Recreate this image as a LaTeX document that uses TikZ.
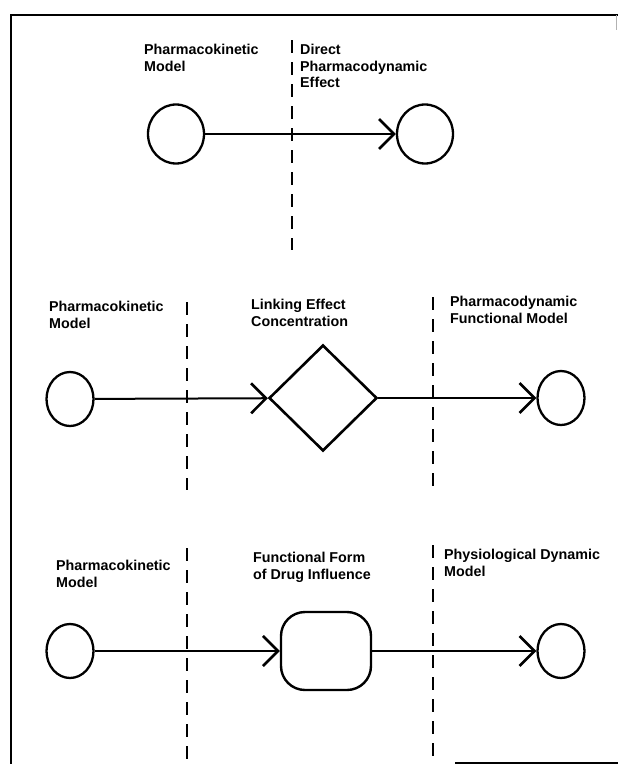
\documentclass[tikz,border=0pt]{standalone}
\usepackage{fontspec}
\setmainfont{Liberation Sans}
\usetikzlibrary{arrows.meta,shapes.geometric}
\begin{document}
\begin{tikzpicture}[x=1pt,y=-1pt,
  lbl/.style={anchor=north west, align=left, font=\bfseries\fontsize{14.3}{16.5}\selectfont, inner sep=0pt},
  circ/.style={ellipse, draw, line width=2.3pt, minimum width=47pt, minimum height=54pt, inner sep=0pt},
  bigcirc/.style={ellipse, draw, line width=2.3pt, minimum width=56pt, minimum height=59pt, inner sep=0pt},
  sep/.style={dash pattern=on 13pt off 9pt, line width=2pt},
  arr/.style={line width=2pt, -{Straight Barb[length=15pt,width=30pt,line width=2.6pt]}},
  frame/.style={line width=2.6pt}]
\useasboundingbox (0,0) rectangle (618,764);
% frame
\draw[frame] (11,764) -- (11,15) -- (618,15);
\draw[gray!60, line width=1pt] (616.5,15) -- (616.5,30);
\draw[line width=1.6pt] (455,763) -- (618,763);

% panel 1
\node[lbl] (t1a) at (144,44) {Pharmacokinetic\\Model};
\draw[sep] (292,40) -- (292,250);
\node[lbl] (t1b) at (300,44) {Direct\\Pharmacodynamic\\Effect};
\node[bigcirc] (c1a) at (176,134) {};
\node[bigcirc] (c1b) at (425,134) {};
\draw[arr] (c1a) -- (c1b);

% panel 2
\node[lbl] (t2a) at (49,301) {Pharmacokinetic\\Model};
\draw[sep] (187,302) -- (187,490);
\node[lbl] (t2b) at (251,299) {Linking Effect\\Concentration};
\draw[sep] (433,297) -- (433,490);
\node[lbl] (t2c) at (450,296) {Pharmacodynamic\\Functional Model};
\node[circ] (c2a) at (70,399) {};
\node[diamond, draw, line width=2.6pt, minimum width=108pt, minimum height=106pt, inner sep=0pt] (d) at (323,398) {};
\node[circ] (c2b) at (561,398) {};
\draw[arr] (c2a) -- (d);
\draw[arr] (d) -- (c2b);

% panel 3
\node[lbl] (t3a) at (56,560) {Pharmacokinetic\\Model};
\draw[sep] (187,548) -- (187,764);
\node[lbl] (t3b) at (253,552) {Functional Form\\of Drug Influence};
\draw[sep] (433,545) -- (433,764);
\node[lbl] (t3c) at (444,549) {Physiological Dynamic\\Model};
\node[circ] (c3a) at (70,651) {};
\node[draw, line width=2.4pt, rounded corners=24pt, minimum width=90pt, minimum height=78pt, inner sep=0pt] (r) at (326,651) {};
\node[circ] (c3b) at (561,651) {};
\draw[arr] (c3a) -- (r);
\draw[arr] (r) -- (c3b);
\end{tikzpicture}
\end{document}
